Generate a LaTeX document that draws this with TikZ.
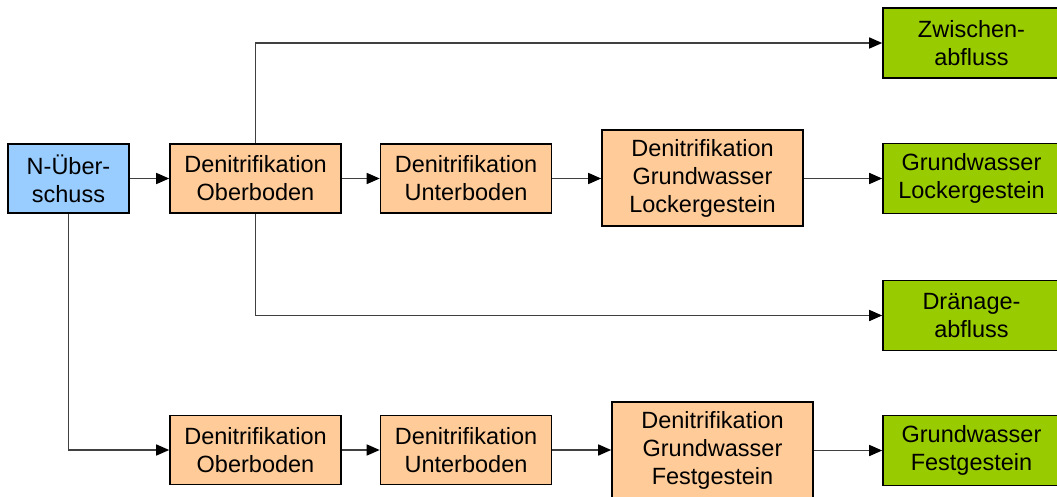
\documentclass[tikz,border=0pt]{standalone}
\usepackage{fontspec}
\setmainfont{Liberation Sans}
\usetikzlibrary{arrows.meta}
\definecolor{bluebox}{HTML}{99CCFF}
\definecolor{orangebox}{HTML}{FFCC99}
\definecolor{greenbox}{HTML}{99CC00}
\definecolor{linegray}{HTML}{404040}
\tikzset{
  box/.style={draw=black, line width=1.6pt, inner sep=0pt, align=center,
    font=\fontsize{23.5pt}{28pt}\selectfont},
  bluenode/.style={box, fill=bluebox, minimum width=121pt, minimum height=69pt},
  orangenode/.style={box, fill=orangebox, minimum width=171pt, minimum height=69pt},
  bignode/.style={box, fill=orangebox, minimum width=201pt, minimum height=96pt},
  greennode/.style={box, fill=greenbox, minimum width=177pt, minimum height=70pt},
  conn/.style={draw=linegray, line width=1.5pt,
    -{Triangle[length=13pt,width=11pt,color=black]}}
}
\begin{document}
\begin{tikzpicture}[x=1pt,y=-1pt]
\useasboundingbox (0,0) rectangle (1057,497);
\begin{scope}
\clip (0,0) rectangle (1057,497);
\node[bluenode] (n) at (68.5,178.5) {N-Über-\\schuss};
\node[orangenode] (o1) at (255.5,178.5) {Denitrifikation\\Oberboden};
\node[orangenode] (u1) at (466,178.5) {Denitrifikation\\Unterboden};
\node[bignode] (g1) at (702.5,178) {Denitrifikation\\Grundwasser\\Lockergestein};
\node[greennode] (z) at (971.5,43) {Zwischen-\\abfluss};
\node[greennode] (gl) at (971.5,178.5) {Grundwasser\\Lockergestein};
\node[greennode] (d) at (971.5,315.5) {Dränage-\\abfluss};
\node[orangenode] (o2) at (255.5,450) {Denitrifikation\\Oberboden};
\node[orangenode] (u2) at (466,450) {Denitrifikation\\Unterboden};
\node[bignode] (g2) at (712.5,450) {Denitrifikation\\Grundwasser\\Festgestein};
\node[greennode] (gf) at (971.5,450.5) {Grundwasser\\Festgestein};

\draw[conn] (n) -- (o1);
\draw[conn] (o1) -- (u1);
\draw[conn] (u1) -- (g1.west |- u1.east);
\draw[conn] (g1.east |- gl.west) -- (gl);
\draw[conn] (o1.north) |- (z.west);
\draw[conn] (o1.south) |- (d.west);
\draw[conn] (n.south) |- (o2.west);
\draw[conn] (o2) -- (u2);
\draw[conn] (u2) -- (g2.west |- u2.east);
\draw[conn] (g2.east |- gf.west) -- (gf);
\end{scope}
\end{tikzpicture}
\end{document}
